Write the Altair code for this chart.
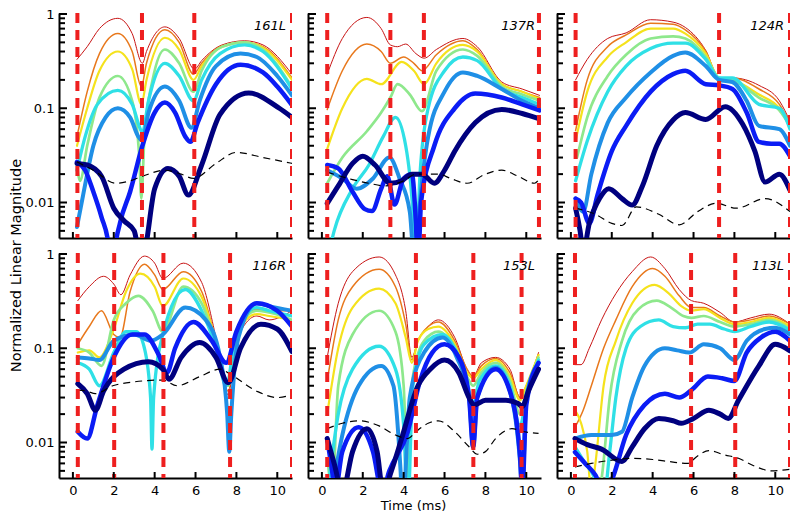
import altair as alt
import pandas as pd

PANEL_NAMES = ["161L", "137R", "124R", "116R", "153L", "113L"]
SERIES = ["navy", "blue", "azure", "cyan", "green", "yellow", "orange", "red"]
COLORS = ["#00007f", "#0b1cf5", "#1f8fe6", "#2fe0e6", "#8ee88c", "#f5e21c", "#e8781c", "#c81414"]
WIDTHS = [5.0, 4.5, 4.0, 3.3, 2.7, 2.2, 1.5, 1.0]
VLINE_COLOR = "#ee1f1f"

X_TICKS = [0, 2, 4, 6, 8, 10]
Y_MAJOR = [1, 0.1, 0.01]
Y_MINOR = [0.9, 0.8, 0.7, 0.6, 0.5, 0.4, 0.3, 0.2,
           0.09, 0.08, 0.07, 0.06, 0.05, 0.04, 0.03, 0.02,
           0.009, 0.008, 0.007, 0.006, 0.005]
XDOM = [-0.68, 10.72]
YDOM = [0.0042, 1.025]

# ---------------- 161L ----------------
p161L_navy = [(0.2, 0.026), (0.7, 0.025), (1.4, 0.019), (2.0, 0.0087), (2.5, 0.0064), (3.0, 0.005), (3.25, 0.003),
              (3.45, 0.003), (4.0, 0.014), (4.65, 0.023), (5.2, 0.019), (5.65, 0.012), (6.3, 0.025), (7.2, 0.086),
              (8.6, 0.145), (10.1, 0.1), (10.72, 0.08)]
p161L_blue = [(0.2, 0.027), (0.6, 0.022), (1.0, 0.013), (1.4, 0.007), (1.75, 0.0035), (1.9, 0.001), (2.05, 0.003),
              (2.3, 0.006), (2.8, 0.013), (3.4, 0.04), (4.0, 0.09), (4.5, 0.115), (5.0, 0.09), (5.5, 0.05),
              (5.75, 0.044), (6.1, 0.07), (7.0, 0.18), (8.2, 0.29), (9.3, 0.24), (10.0, 0.17), (10.72, 0.108)]
p161L_azure = [(0.2, 0.0055), (0.5, 0.012), (1.0, 0.04), (1.6, 0.08), (2.2, 0.1), (2.8, 0.08), (3.2, 0.05),
               (3.4, 0.045), (3.7, 0.09), (4.5, 0.17), (5.2, 0.12), (5.8, 0.062), (6.2, 0.12), (7.0, 0.28),
               (8.2, 0.38), (9.0, 0.35), (10.0, 0.22), (10.72, 0.137)]
p161L_cyan = [(0.2, 0.022), (0.6, 0.05), (1.2, 0.11), (2.2, 0.155), (2.9, 0.11), (3.3, 0.06), (3.4, 0.055),
              (3.7, 0.12), (4.5, 0.3), (5.2, 0.22), (5.9, 0.12), (6.3, 0.2), (7.2, 0.38), (8.4, 0.47),
              (9.3, 0.4), (10.72, 0.16)]
p161L_green = [(0.2, 0.025), (0.35, 0.017), (0.7, 0.04), (1.3, 0.13), (2.2, 0.22), (2.9, 0.12), (3.25, 0.03),
               (3.35, 0.011), (3.5, 0.05), (3.9, 0.2), (4.5, 0.42), (5.2, 0.3), (5.9, 0.15), (6.3, 0.25),
               (7.3, 0.45), (8.4, 0.5), (9.3, 0.42), (10.72, 0.167)]
p161L_yellow = [(0.2, 0.04), (0.7, 0.1), (1.3, 0.25), (2.2, 0.4), (2.9, 0.26), (3.35, 0.11), (3.6, 0.2),
                (4.5, 0.56), (5.2, 0.42), (5.9, 0.2), (6.3, 0.28), (7.3, 0.45), (8.4, 0.5), (9.3, 0.44),
                (10.72, 0.2)]
p161L_orange = [(0.2, 0.05), (0.7, 0.15), (1.3, 0.38), (2.2, 0.62), (2.9, 0.4), (3.35, 0.17), (3.6, 0.3),
                (4.5, 0.68), (5.2, 0.5), (5.9, 0.23), (6.3, 0.3), (7.3, 0.46), (8.4, 0.5), (9.3, 0.45),
                (10.72, 0.21)]
p161L_red = [(0.2, 0.33), (0.7, 0.45), (1.3, 0.7), (2.2, 0.9), (2.9, 0.62), (3.4, 0.3), (3.6, 0.4),
             (4.5, 0.73), (5.2, 0.55), (5.95, 0.26), (6.3, 0.32), (7.3, 0.47), (8.4, 0.52), (9.3, 0.47),
             (10.72, 0.23)]
p161L_dash = [(0.2, 0.027), (1.0, 0.022), (2.1, 0.016), (2.8, 0.017), (3.4, 0.019), (4.5, 0.022), (5.3, 0.02),
              (5.9, 0.018), (7.0, 0.026), (8.0, 0.034), (9.3, 0.03), (10.72, 0.026)]
p161L_vlines = [0.22, 3.38, 5.94, 10.72]

# ---------------- 137R ----------------
p137R_navy = [(0.26, 0.0098), (0.8, 0.015), (1.5, 0.026), (2.0, 0.031), (2.6, 0.025), (3.35, 0.016), (3.9, 0.017),
              (4.4, 0.02), (4.9, 0.02), (5.5, 0.016), (6.0, 0.022), (6.5, 0.035), (7.5, 0.07), (8.8, 0.097),
              (9.8, 0.088), (10.65, 0.077)]
p137R_blue = [(0.26, 0.025), (0.8, 0.023), (1.5, 0.013), (2.1, 0.0085), (2.45, 0.0081), (2.9, 0.014), (3.2, 0.019),
              (3.55, 0.0095), (4.0, 0.018), (4.4, 0.02), (4.6, 0.006), (4.7, 0.002), (4.85, 0.01), (5.5, 0.04),
              (6.5, 0.1), (7.5, 0.143), (8.8, 0.13), (9.8, 0.11), (10.65, 0.095)]
p137R_azure = [(0.26, 0.022), (1.0, 0.018), (1.7, 0.014), (2.5, 0.018), (3.3, 0.03), (3.8, 0.018), (4.3, 0.008),
               (4.55, 0.002), (4.8, 0.01), (5.2, 0.05), (6.0, 0.15), (6.9, 0.24), (7.6, 0.22), (8.8, 0.16),
               (9.8, 0.12), (10.65, 0.1)]
p137R_cyan = [(0.35, 0.003), (0.6, 0.005), (1.5, 0.014), (2.3, 0.025), (3.0, 0.05), (3.6, 0.08), (4.1, 0.04),
              (4.45, 0.008), (4.6, 0.002), (4.8, 0.02), (5.2, 0.1), (6.0, 0.25), (6.9, 0.35), (7.6, 0.32),
              (8.8, 0.16), (9.8, 0.13), (10.65, 0.11)]
p137R_green = [(0.26, 0.016), (1.0, 0.03), (2.2, 0.057), (2.9, 0.09), (3.35, 0.13), (3.7, 0.18), (4.3, 0.14),
               (4.9, 0.093), (5.6, 0.25), (6.9, 0.42), (7.6, 0.36), (8.8, 0.17), (9.8, 0.14), (10.65, 0.12)]
p137R_yellow = [(0.26, 0.037), (1.0, 0.1), (2.2, 0.205), (2.9, 0.18), (3.9, 0.31), (4.5, 0.25), (5.0, 0.18),
                (5.6, 0.3), (6.9, 0.47), (7.6, 0.4), (8.8, 0.18), (9.8, 0.15), (10.65, 0.125)]
p137R_orange = [(0.26, 0.097), (1.0, 0.25), (2.2, 0.48), (2.9, 0.4), (3.35, 0.3), (4.0, 0.35), (4.5, 0.3),
                (4.9, 0.25), (5.6, 0.37), (6.9, 0.52), (7.6, 0.42), (8.8, 0.18), (9.8, 0.15), (10.65, 0.13)]
p137R_red = [(0.26, 0.23), (1.0, 0.55), (2.2, 0.92), (2.9, 0.7), (3.35, 0.47), (3.7, 0.45), (4.1, 0.48),
             (4.6, 0.38), (5.0, 0.34), (5.6, 0.42), (6.9, 0.55), (7.6, 0.45), (8.8, 0.19), (9.8, 0.16),
             (10.65, 0.137)]
p137R_dash = [(0.26, 0.021), (1.5, 0.0175), (2.3, 0.016), (3.1, 0.015), (4.0, 0.017), (4.6, 0.02), (5.7, 0.02),
              (6.3, 0.018), (7.1, 0.016), (8.0, 0.02), (8.8, 0.022), (9.6, 0.019), (10.4, 0.016), (10.65, 0.018)]
p137R_vlines = [0.26, 3.35, 4.99, 10.62]

# ---------------- 124R ----------------
p124R_navy = [(0.23, 0.0087), (0.45, 0.005), (0.6, 0.003), (0.9, 0.006), (1.4, 0.011), (1.85, 0.014), (2.5, 0.011),
              (3.0, 0.0094), (3.5, 0.015), (4.2, 0.04), (5.0, 0.075), (5.6, 0.09), (6.6, 0.076), (7.55, 0.104),
              (8.4, 0.068), (9.0, 0.035), (9.5, 0.0165), (10.2, 0.02), (10.72, 0.0135)]
p124R_blue = [(0.23, 0.011), (0.5, 0.01), (0.9, 0.006), (1.3, 0.012), (2.0, 0.035), (2.7, 0.065), (3.9, 0.15),
              (5.0, 0.23), (5.6, 0.25), (6.6, 0.18), (7.25, 0.175), (7.9, 0.16), (8.6, 0.09), (9.2, 0.044),
              (9.8, 0.042), (10.2, 0.042), (10.72, 0.031)]
p124R_azure = [(0.23, 0.011), (0.6, 0.008), (1.0, 0.02), (1.8, 0.07), (2.7, 0.13), (3.9, 0.24), (5.0, 0.36),
               (5.6, 0.39), (6.6, 0.28), (7.25, 0.2), (7.9, 0.19), (8.6, 0.12), (9.2, 0.065), (10.2, 0.06),
               (10.72, 0.04)]
p124R_cyan = [(0.23, 0.017), (0.8, 0.045), (1.8, 0.15), (2.7, 0.28), (3.9, 0.43), (5.0, 0.49), (5.6, 0.49),
              (6.6, 0.33), (7.25, 0.21), (7.9, 0.21), (9.2, 0.11), (10.2, 0.1), (10.72, 0.06)]
p124R_green = [(0.3, 0.03), (0.8, 0.08), (1.8, 0.22), (2.7, 0.37), (3.9, 0.55), (5.0, 0.58), (5.6, 0.55),
               (6.6, 0.35), (7.25, 0.21), (7.9, 0.2), (9.2, 0.13), (10.2, 0.095), (10.72, 0.065)]
p124R_yellow = [(0.23, 0.045), (0.8, 0.15), (1.8, 0.35), (2.7, 0.5), (3.9, 0.7), (5.0, 0.7), (5.6, 0.62),
                (6.6, 0.38), (7.25, 0.21), (7.9, 0.2), (9.2, 0.14), (10.2, 0.1), (10.72, 0.065)]
p124R_orange = [(0.23, 0.058), (0.8, 0.2), (1.8, 0.45), (2.7, 0.6), (3.9, 0.8), (5.0, 0.78), (5.6, 0.68),
                (6.6, 0.4), (7.25, 0.21), (7.9, 0.21), (9.2, 0.16), (10.2, 0.11), (10.72, 0.07)]
p124R_red = [(0.23, 0.2), (0.8, 0.33), (1.8, 0.55), (2.7, 0.63), (3.9, 0.87), (5.0, 0.82), (5.6, 0.72),
             (6.6, 0.41), (7.25, 0.21), (7.9, 0.21), (9.2, 0.175), (10.2, 0.12), (10.72, 0.073)]
p124R_dash = [(0.23, 0.0087), (1.2, 0.0075), (2.0, 0.006), (2.5, 0.0057), (3.2, 0.009), (4.3, 0.0075),
              (5.3, 0.0058), (6.2, 0.008), (7.1, 0.0098), (8.1, 0.0087), (9.5, 0.011), (10.72, 0.008)]
p124R_vlines = [0.23, 7.25, 10.72]

# ---------------- 116R ----------------
p116R_navy = [(0.24, 0.042), (0.7, 0.033), (1.1, 0.022), (1.5, 0.035), (2.5, 0.06), (3.7, 0.072), (4.4, 0.06),
              (4.7, 0.047), (5.3, 0.08), (6.2, 0.115), (7.0, 0.08), (7.6, 0.043), (8.2, 0.1), (9.2, 0.18),
              (10.0, 0.16), (10.72, 0.092)]
p116R_blue = [(0.24, 0.013), (0.7, 0.011), (1.2, 0.025), (2.0, 0.08), (2.9, 0.14), (3.5, 0.14), (4.2, 0.085),
              (4.6, 0.055), (5.0, 0.1), (5.9, 0.19), (6.8, 0.12), (7.5, 0.07), (8.0, 0.15), (9.0, 0.3),
              (10.0, 0.25), (10.72, 0.17)]
p116R_azure = [(0.24, 0.08), (0.8, 0.078), (1.3, 0.075), (2.0, 0.12), (3.0, 0.14), (3.8, 0.12), (4.4, 0.14),
               (5.5, 0.27), (6.5, 0.2), (7.2, 0.08), (7.55, 0.02), (7.65, 0.008), (7.75, 0.02), (8.1, 0.13),
               (9.0, 0.3), (9.6, 0.28), (10.72, 0.25)]
p116R_cyan = [(0.24, 0.07), (0.8, 0.06), (1.3, 0.04), (2.0, 0.09), (2.6, 0.15), (3.1, 0.15), (3.5, 0.1),
              (3.8, 0.03), (3.87, 0.0085), (3.95, 0.03), (4.4, 0.14), (5.5, 0.42), (6.3, 0.25), (7.0, 0.1),
              (7.5, 0.04), (8.0, 0.15), (9.0, 0.27), (9.6, 0.25), (10.72, 0.22)]
p116R_green = [(0.24, 0.1), (0.8, 0.09), (1.4, 0.065), (2.0, 0.2), (2.6, 0.3), (3.2, 0.36), (3.9, 0.25),
               (4.4, 0.15), (5.4, 0.45), (6.3, 0.3), (7.0, 0.11), (7.6, 0.04), (8.0, 0.15), (9.0, 0.25),
               (9.6, 0.24), (10.72, 0.2)]
p116R_yellow = [(0.24, 0.09), (0.8, 0.095), (1.3, 0.08), (2.0, 0.16), (2.6, 0.4), (3.3, 0.62), (4.0, 0.45),
                (4.4, 0.28), (5.4, 0.55), (6.3, 0.35), (7.0, 0.12), (7.6, 0.04), (8.0, 0.14), (9.0, 0.23),
                (9.6, 0.22), (10.72, 0.2)]
p116R_orange = [(0.24, 0.11), (0.8, 0.17), (1.4, 0.25), (2.0, 0.14), (2.3, 0.13), (2.8, 0.4), (3.5, 0.78),
                (4.0, 0.6), (4.4, 0.42), (5.4, 0.65), (6.3, 0.4), (7.0, 0.12), (7.6, 0.035), (8.0, 0.14),
                (9.0, 0.26), (9.6, 0.25), (10.72, 0.25)]
p116R_red = [(0.24, 0.32), (0.8, 0.45), (1.5, 0.58), (2.0, 0.48), (2.35, 0.37), (2.8, 0.6), (3.5, 0.95),
             (4.0, 0.8), (4.4, 0.55), (5.4, 0.8), (6.3, 0.5), (7.0, 0.13), (7.6, 0.032), (8.0, 0.12),
             (9.0, 0.22), (9.6, 0.2), (10.72, 0.25)]
p116R_dash = [(0.24, 0.036), (0.7, 0.035), (1.1, 0.033), (1.95, 0.04), (3.0, 0.044), (4.4, 0.046), (5.1, 0.04),
              (6.2, 0.05), (7.2, 0.06), (7.7, 0.053), (9.0, 0.035), (10.0, 0.03), (10.72, 0.032)]
p116R_vlines = [0.24, 2.02, 4.43, 7.69, 10.72]

# ---------------- 153L ----------------
p153L_navy = [(0.26, 0.011), (0.6, 0.006), (1.0, 0.003), (1.5, 0.008), (2.2, 0.014), (2.7, 0.008), (3.0, 0.003),
              (3.4, 0.005), (3.9, 0.011), (4.7, 0.04), (5.3, 0.06), (6.0, 0.075), (6.7, 0.055), (7.2, 0.03),
              (7.45, 0.025), (8.0, 0.028), (9.0, 0.028), (9.6, 0.026), (9.8, 0.024), (10.1, 0.035), (10.6, 0.06)]
p153L_blue = [(0.26, 0.011), (0.5, 0.005), (0.65, 0.003), (1.0, 0.008), (1.8, 0.0145), (2.5, 0.008), (2.95, 0.003),
              (3.3, 0.005), (4.2, 0.013), (4.8, 0.045), (5.4, 0.09), (6.0, 0.11), (6.7, 0.08), (7.2, 0.03),
              (7.4, 0.009), (7.6, 0.03), (8.5, 0.06), (9.2, 0.035), (9.7, 0.007), (9.8, 0.003), (10.0, 0.025),
              (10.6, 0.07)]
p153L_azure = [(0.5, 0.003), (1.0, 0.012), (1.8, 0.04), (2.9, 0.065), (3.5, 0.04), (3.85, 0.005), (3.95, 0.002),
               (4.3, 0.03), (5.0, 0.09), (5.9, 0.13), (6.6, 0.08), (7.2, 0.03), (7.4, 0.009), (7.6, 0.03),
               (8.5, 0.062), (9.2, 0.035), (9.7, 0.006), (9.8, 0.003), (10.0, 0.03), (10.6, 0.07)]
p153L_cyan = [(0.35, 0.004), (0.8, 0.02), (1.5, 0.06), (2.8, 0.105), (3.6, 0.06), (4.0, 0.015), (4.2, 0.002),
              (4.45, 0.04), (5.0, 0.11), (5.9, 0.14), (6.6, 0.09), (7.1, 0.045), (7.4, 0.025), (7.7, 0.045),
              (8.5, 0.065), (9.2, 0.04), (9.7, 0.015), (10.0, 0.03), (10.6, 0.075)]
p153L_green = [(0.3, 0.006), (0.5, 0.003), (0.8, 0.04), (1.5, 0.14), (2.8, 0.25), (3.6, 0.15), (4.0, 0.04),
               (4.2, 0.004), (4.45, 0.05), (5.0, 0.12), (5.7, 0.15), (6.5, 0.1), (7.1, 0.05), (7.4, 0.04),
               (7.8, 0.055), (8.5, 0.07), (9.2, 0.045), (9.7, 0.02), (10.0, 0.035), (10.6, 0.08)]
p153L_yellow = [(0.26, 0.02), (0.8, 0.1), (1.5, 0.27), (2.8, 0.43), (3.6, 0.3), (4.1, 0.13), (4.4, 0.07),
                (4.7, 0.12), (5.2, 0.16), (5.7, 0.17), (6.5, 0.11), (7.1, 0.055), (7.4, 0.048), (7.8, 0.06),
                (8.5, 0.075), (9.2, 0.05), (9.7, 0.028), (10.0, 0.04), (10.6, 0.085)]
p153L_orange = [(0.26, 0.045), (0.8, 0.2), (1.5, 0.45), (2.8, 0.69), (3.6, 0.45), (4.1, 0.18), (4.4, 0.075),
                (4.7, 0.12), (5.2, 0.17), (5.7, 0.19), (6.5, 0.12), (7.1, 0.06), (7.4, 0.05), (7.8, 0.065),
                (8.5, 0.078), (9.2, 0.055), (9.7, 0.03), (10.0, 0.04), (10.6, 0.085)]
p153L_red = [(0.26, 0.08), (0.8, 0.3), (1.5, 0.65), (2.8, 0.93), (3.6, 0.6), (4.1, 0.25), (4.4, 0.08),
             (4.7, 0.12), (5.2, 0.17), (5.7, 0.2), (6.5, 0.13), (7.1, 0.06), (7.4, 0.05), (7.8, 0.07),
             (8.5, 0.08), (9.2, 0.06), (9.7, 0.03), (10.0, 0.04), (10.6, 0.09)]
p153L_dash = [(0.26, 0.014), (1.0, 0.016), (1.8, 0.017), (2.8, 0.015), (3.6, 0.012), (4.2, 0.011), (4.6, 0.013),
              (5.2, 0.016), (5.7, 0.017), (6.5, 0.013), (7.2, 0.009), (7.6, 0.0075), (8.0, 0.008), (8.5, 0.011),
              (9.3, 0.014), (9.9, 0.013), (10.6, 0.0125)]
p153L_vlines = [0.26, 4.6, 7.41, 9.77]

# ---------------- 113L ----------------
p113L_navy = [(0.2, 0.011), (0.8, 0.0095), (1.5, 0.0085), (2.5, 0.0063), (3.0, 0.009), (3.6, 0.014), (4.3, 0.018),
              (5.0, 0.017), (5.4, 0.016), (6.0, 0.018), (6.75, 0.022), (7.3, 0.02), (7.7, 0.018), (8.2, 0.028),
              (9.2, 0.065), (10.0, 0.11), (10.72, 0.094)]
p113L_blue = [(0.2, 0.0079), (0.7, 0.006), (1.2, 0.0045), (1.6, 0.003), (2.0, 0.004), (2.7, 0.012), (3.6, 0.025),
              (4.6, 0.033), (5.3, 0.03), (5.9, 0.036), (6.7, 0.05), (7.4, 0.048), (8.0, 0.045), (8.6, 0.09),
              (9.3, 0.13), (10.0, 0.15), (10.72, 0.12)]
p113L_azure = [(0.2, 0.011), (1.0, 0.012), (2.0, 0.012), (2.5, 0.013), (3.0, 0.03), (3.6, 0.065), (4.6, 0.1),
               (5.2, 0.095), (5.8, 0.09), (6.5, 0.11), (7.3, 0.1), (8.0, 0.075), (8.6, 0.12), (9.5, 0.16),
               (10.0, 0.165), (10.72, 0.14)]
p113L_cyan = [(0.2, 0.009), (0.7, 0.006), (1.2, 0.004), (1.55, 0.002), (1.9, 0.008), (2.2, 0.03), (2.7, 0.1),
              (3.4, 0.17), (4.3, 0.2), (5.0, 0.17), (5.6, 0.165), (6.2, 0.18), (6.8, 0.18), (7.5, 0.16),
              (8.0, 0.15), (8.8, 0.17), (9.7, 0.19), (10.72, 0.155)]
p113L_green = [(1.3, 0.002), (1.55, 0.005), (1.9, 0.03), (2.5, 0.12), (3.3, 0.26), (4.2, 0.32), (4.9, 0.27),
               (5.5, 0.22), (5.9, 0.21), (6.5, 0.22), (7.3, 0.19), (8.0, 0.17), (8.8, 0.18), (9.7, 0.2),
               (10.72, 0.16)]
p113L_yellow = [(0.2, 0.022), (0.5, 0.016), (0.8, 0.008), (1.0, 0.003), (1.2, 0.006), (1.6, 0.04), (2.2, 0.12),
                (3.0, 0.3), (4.1, 0.47), (4.8, 0.38), (5.4, 0.28), (5.9, 0.25), (6.5, 0.26), (7.3, 0.21),
                (8.0, 0.18), (8.8, 0.19), (9.7, 0.21), (10.72, 0.17)]
p113L_orange = [(0.2, 0.0145), (0.6, 0.022), (1.0, 0.04), (1.6, 0.1), (2.2, 0.2), (3.0, 0.45), (4.0, 0.7),
                (4.6, 0.58), (5.3, 0.36), (5.9, 0.27), (6.5, 0.27), (7.3, 0.22), (8.0, 0.19), (8.8, 0.2),
                (9.7, 0.22), (10.72, 0.18)]
p113L_red = [(0.2, 0.067), (0.5, 0.067), (0.9, 0.1), (1.5, 0.2), (2.2, 0.38), (3.0, 0.65), (3.9, 0.93),
             (4.6, 0.7), (5.3, 0.42), (5.9, 0.32), (6.5, 0.3), (7.3, 0.24), (8.0, 0.19), (8.8, 0.21),
             (9.7, 0.23), (10.72, 0.18)]
p113L_dash = [(0.2, 0.0055), (1.0, 0.006), (2.0, 0.0065), (3.0, 0.0068), (4.0, 0.0066), (5.0, 0.0062),
              (5.7, 0.006), (6.2, 0.0072), (6.75, 0.0082), (7.5, 0.0074), (8.2, 0.0068), (9.0, 0.0056),
              (9.8, 0.005), (10.72, 0.0052)]
p113L_vlines = [0.2, 5.88, 8.04, 10.72]

CURVES = [
    [p161L_navy, p161L_blue, p161L_azure, p161L_cyan, p161L_green, p161L_yellow, p161L_orange, p161L_red],
    [p137R_navy, p137R_blue, p137R_azure, p137R_cyan, p137R_green, p137R_yellow, p137R_orange, p137R_red],
    [p124R_navy, p124R_blue, p124R_azure, p124R_cyan, p124R_green, p124R_yellow, p124R_orange, p124R_red],
    [p116R_navy, p116R_blue, p116R_azure, p116R_cyan, p116R_green, p116R_yellow, p116R_orange, p116R_red],
    [p153L_navy, p153L_blue, p153L_azure, p153L_cyan, p153L_green, p153L_yellow, p153L_orange, p153L_red],
    [p113L_navy, p113L_blue, p113L_azure, p113L_cyan, p113L_green, p113L_yellow, p113L_orange, p113L_red],
]
DASHES = [p161L_dash, p137R_dash, p124R_dash, p116R_dash, p153L_dash, p113L_dash]
VLINES = [p161L_vlines, p137R_vlines, p124R_vlines, p116R_vlines, p153L_vlines, p113L_vlines]

W, H = 233, 225
FONT = "DejaVu Sans"


def make_panel(idx):
    row, col = divmod(idx, 3)
    xscale = alt.Scale(domain=XDOM, nice=False, zero=False)
    yscale = alt.Scale(type="log", domain=YDOM, nice=False)

    xkw = dict(values=X_TICKS, labels=(row == 1), ticks=False, grid=False, domain=True,
               domainColor="black", domainWidth=2, labelFontSize=13, labelColor="black",
               labelPadding=6, labelFlush=False, labelFont=FONT)
    if row == 1 and col == 1:
        xkw.update(title="Time (ms)", titleFontSize=13, titleFontWeight="normal", titleColor="black",
                   titlePadding=2, titleX=105, titleFont=FONT)
    else:
        xkw.update(title=None)
    xaxis = alt.Axis(**xkw)

    ykw = dict(values=Y_MAJOR, format="~g", labels=(col == 0), ticks=False, grid=False, domain=True,
               domainColor="black", domainWidth=2, labelFontSize=13, labelColor="black",
               labelPadding=5, labelFlush=False, labelFont=FONT)
    if row == 0 and col == 0:
        ykw.update(title="Normalized Linear Magnitude", titleFontSize=14.5, titleFontWeight="normal",
                   titleColor="black", titleAngle=270, titleAlign="center", titleBaseline="middle",
                   titleX=-43, titleY=252, titleFont=FONT)
    else:
        ykw.update(title=None)
    yaxis = alt.Axis(**ykw)

    def X():
        return alt.X("t:Q", scale=xscale, axis=xaxis)

    def Y():
        return alt.Y("v:Q", scale=yscale, axis=yaxis)

    layers = []
    curves = CURVES[idx]
    for s in reversed(range(len(SERIES))):
        df = pd.DataFrame(curves[s], columns=["t", "v"])
        layers.append(
            alt.Chart(df).mark_line(color=COLORS[s], strokeWidth=WIDTHS[s], interpolate="monotone",
                                    clip=True, strokeJoin="round", strokeCap="round")
            .encode(x=X(), y=Y())
        )
    dfd = pd.DataFrame(DASHES[idx], columns=["t", "v"])
    layers.append(
        alt.Chart(dfd).mark_line(color="black", strokeWidth=1.2, strokeDash=[7, 5],
                                 interpolate="monotone", clip=True)
        .encode(x=X(), y=Y())
    )
    dfv = pd.DataFrame({"t": VLINES[idx]})
    layers.append(
        alt.Chart(dfv).mark_rule(color=VLINE_COLOR, strokeWidth=4, strokeDash=[10, 7], clip=True)
        .encode(x=X())
    )
    layers.append(
        alt.Chart(pd.DataFrame({"v": Y_MAJOR})).mark_rule(color="black", strokeWidth=2)
        .encode(y=Y(), x=alt.value(0), x2=alt.value(8))
    )
    layers.append(
        alt.Chart(pd.DataFrame({"v": Y_MINOR})).mark_rule(color="black", strokeWidth=2)
        .encode(y=Y(), x=alt.value(0), x2=alt.value(6))
    )
    layers.append(
        alt.Chart(pd.DataFrame({"t": X_TICKS})).mark_rule(color="black", strokeWidth=2)
        .encode(x=X(), y=alt.value(H), y2=alt.value(H - 6))
    )
    layers.append(
        alt.Chart(pd.DataFrame({"label": [PANEL_NAMES[idx]]}))
        .mark_text(align="right", baseline="middle", fontStyle="italic", fontSize=13, font=FONT,
                   color="black")
        .encode(x=alt.value(W - 6), y=alt.value(13), text="label:N")
    )
    return alt.layer(*layers).properties(width=W, height=H)


panels = [make_panel(i) for i in range(6)]

chart = (
    alt.concat(*panels, columns=3, spacing={"row": 15, "column": 16}, bounds="flush")
    .properties(padding=0)
    .configure(font=FONT)
    .configure_view(stroke=None)
)

chart.save("out.html", embed_options={"renderer": "svg", "actions": False})
